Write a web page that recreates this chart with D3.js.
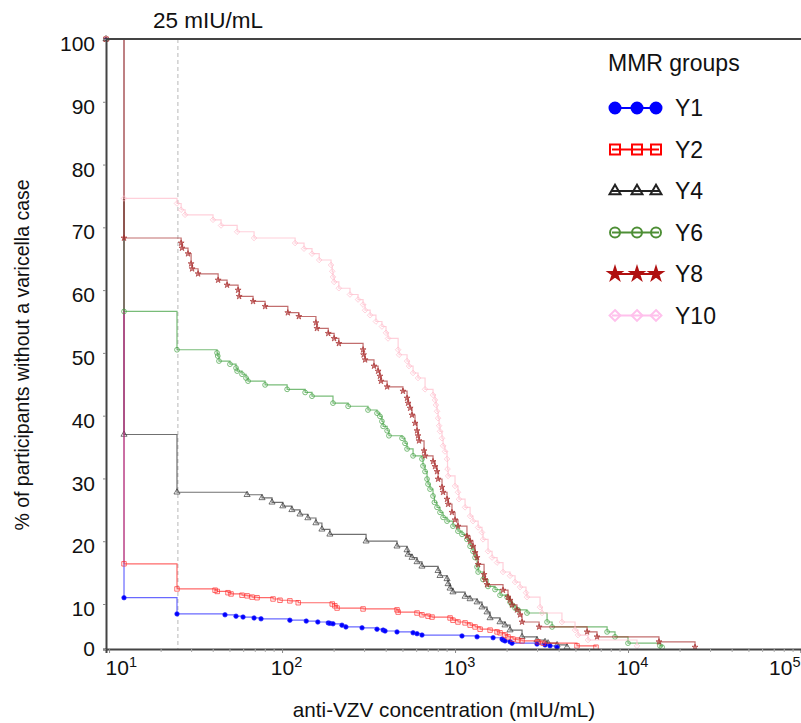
<!DOCTYPE html>
<html>
<head>
<meta charset="utf-8">
<script src="https://cdn.jsdelivr.net/npm/d3@7"></script>
<style>
  body { margin: 0; background: #fff; }
  text { font-family: "Liberation Sans", Arial, sans-serif; fill: #111; }
</style>
</head>
<body>
<script>
// data: [anti-VZV concentration (mIU/mL), % of participants]
const groups = ["Y1", "Y2", "Y4", "Y6", "Y8", "Y10"];

const y1Data = [[9.6,100],[12.2,11.0],[24.7,7.8],[46.8,7.6],[54.2,7.3],[59.5,7.1],[68.9,6.9],[75.6,6.7],
  [111,6.4],[138,6.2],[161,6.0],[185,5.8],[189,5.7],[197,5.6],[222,5.3],[234,4.9],[290,4.7],[354,4.4],
  [384,4.2],[394,4.0],[462,3.8],[572,3.6],[603,3.4],[644,3.1],[1097,2.9],[1341,2.7],[1660,2.5],[1870,2.2],
  [1894,2.0],[1945,1.8],[2080,1.6],[2135,1.3],[2978,1.1],[3314,0.9],[3542,0.7],[3889,0.4]];

const y2Data = [[9.6,100],[12.2,16.4],[24.7,12.4],[41.0,12.2],[42.2,12.0],[48.7,11.8],[50.7,11.6],[58.7,11.4],
  [62.8,11.3],[67.1,11.1],[71.7,11.0],[88.7,10.8],[97.3,10.6],[111,10.5],[124,10.2],[195,10.0],[202,9.6],
  [208,9.1],[294,8.9],[462,8.7],[469,8.2],[603,8.0],[644,7.6],[698,7.3],[736,7.1],[936,6.9],[973,6.4],
  [1040,6.0],[1143,5.8],[1222,5.3],[1306,4.9],[1396,4.4],[1594,4.2],[1750,3.8],[1820,3.6],[1945,3.1],
  [2024,2.7],[2163,2.2],[2312,2.0],[2440,1.8],[3020,1.6],[3228,1.3],[5070,0.7],[6530,0.4]];

const y4Data = [[9.6,100],[12.2,37.0],[24.7,27.8],[62.8,27.4],[76.6,26.9],[87.5,26.2],[101,25.6],[114,25.0],
  [127,24.3],[141,23.7],[157,22.9],[170,21.9],[189,21.1],[306,20.0],[462,19.2],[528,18.6],[535,17.9],
  [564,17.4],[603,16.7],[644,16.0],[798,15.3],[819,14.5],[899,14.0],[912,13.2],[936,12.5],[973,11.9],
  [1143,11.2],[1222,10.8],[1341,10.3],[1432,9.3],[1531,8.2],[1594,6.9],[1820,6.0],[1945,5.3],[2080,4.2],
  [2440,2.7],[2978,2.0],[3314,1.6],[3450,1.3],[3889,0.9],[4440,0.4]];

const y6Data = [[9.6,100],[12.2,56.6],[24.7,50.5],[42.1,50.0],[42.5,49.5],[43.2,48.7],[50.0,48.2],[54.2,47.6],
  [55.0,47.1],[58.7,46.6],[61.9,46.0],[63.6,45.5],[79.8,44.9],[107,44.2],[136,43.7],[149,43.1],[197,42.0],
  [241,41.5],[314,40.9],[354,40.4],[368,39.9],[378,39.1],[384,38.3],[405,37.6],[415,36.8],[494,36.4],
  [514,35.6],[528,34.7],[572,33.6],[644,33.1],[653,32.0],[671,31.1],[689,29.9],[698,29.1],[717,28.3],
  [746,27.2],[760,26.2],[787,25.4],[819,24.6],[853,23.8],[899,23.2],[973,22.4],[1040,21.6],[1097,21.1],
  [1172,20.3],[1222,19.2],[1270,18.4],[1306,17.4],[1341,15.9],[1360,15.1],[1452,13.9],[1552,12.8],
  [1703,12.3],[1820,11.4],[2000,11.1],[2080,10.3],[2135,9.8],[2223,9.1],[2312,8.7],[2606,8.0],[3404,6.0],
  [3640,4.9],[7570,3.8],[8410,2.7],[10000,1.3],[15300,0.7],[15740,0.4]];

const y8Data = [[9.6,100],[12.2,68.3],[26.1,67.5],[26.4,66.7],[28.6,65.8],[29.8,64.2],[30.2,63.4],[32.7,62.6],
  [42.7,61.6],[48.1,60.8],[55.7,60.0],[56.5,59.0],[68.0,58.2],[79.8,57.4],[108,56.4],[125,55.8],[157,54.8],
  [159,53.9],[185,53.1],[200,52.3],[213,51.5],[294,50.5],[296,49.7],[302,48.9],[340,47.9],[359,47.1],
  [368,46.3],[373,45.5],[405,44.6],[500,43.9],[528,42.8],[535,42.0],[550,41.2],[564,40.1],[587,38.8],
  [603,37.6],[611,36.8],[619,36.0],[662,34.4],[671,33.6],[746,32.7],[766,31.9],[787,31.1],[798,29.9],
  [841,28.6],[853,27.8],[899,26.7],[912,25.9],[960,24.6],[1000,23.4],[1040,22.4],[1172,20.8],[1222,20.0],
  [1270,19.2],[1306,18.2],[1341,17.4],[1360,16.3],[1472,14.7],[1489,13.9],[1531,13.1],[1894,12.2],
  [2024,11.1],[2080,10.6],[2135,9.8],[2280,8.7],[2376,7.6],[2440,6.0],[3062,4.9],[5800,3.8],[6620,2.7],
  [15100,1.6],[24400,0.4]];

const y10Data = [[9.6,100],[12.2,74.6],[24.7,73.8],[26.1,72.8],[27.5,72.0],[39.9,71.2],[44.4,70.3],[55.0,69.3],
  [68.9,68.3],[119,67.5],[134,66.6],[149,65.8],[164,64.8],[192,64.0],[195,63.0],[197,62.1],[200,61.3],
  [213,60.3],[247,59.3],[275,58.5],[294,57.7],[302,56.8],[323,56.0],[349,55.0],[378,54.2],[399,53.2],
  [410,52.3],[469,50.5],[475,49.7],[528,48.7],[542,47.9],[572,46.8],[611,46.0],[671,44.2],[746,43.3],
  [766,42.5],[776,41.7],[787,40.7],[798,39.6],[809,38.4],[819,37.5],[841,36.4],[853,35.2],[875,34.3],
  [899,33.1],[905,31.5],[912,30.4],[1000,28.8],[1040,27.8],[1054,26.7],[1143,25.4],[1222,24.0],[1270,23.2],
  [1360,22.2],[1432,21.4],[1452,20.3],[1552,18.4],[1637,17.4],[1750,16.6],[1894,15.1],[2080,14.5],
  [2223,13.5],[2376,12.7],[2572,11.8],[2606,11.1],[3100,9.3],[3184,8.0],[4150,6.0],[4940,4.2],[5140,3.1],
  [5870,2.0],[11270,0.7]];

const seriesData = [y1Data, y2Data, y4Data, y6Data, y8Data, y10Data];
const xTicks = [10, 100, 1000, 10000, 100000];
const yTicks = [0, 10, 20, 30, 40, 50, 60, 70, 80, 90, 100];
const cutoff = 25;

// styles per group
const colors = ["#0000ff", "#ff0000", "#222222", "#4e8f36", "#b01010", "#ffc0ec"];
const lineColors = ["#2a2aff", "#ff2a2a", "#333333", "#3f9f3f", "#a83030", "#ffbccb"];
const symbols = [d3.symbolCircle, d3.symbolSquare, d3.symbolTriangle, d3.symbolCircle, d3.symbolStar,
  d3.symbolDiamond2 || d3.symbolDiamond];
const filled = [true, false, false, false, true, false];
const plotSizes = [16, 20, 16, 18, 11, 20];
const legendSizes = [95, 100, 52, 78, 50, 75];

const width = 801, height = 723;
const svg = d3.select("body").append("svg")
  .attr("width", width).attr("height", height);

const x = d3.scaleLog().domain([9.6, 1e5]).range([106, 801]);
const y = d3.scaleLinear().domain([0, 10, 100]).range([649, 604, 39]);

// cutoff line
svg.append("line")
  .attr("x1", x(cutoff)).attr("x2", x(cutoff))
  .attr("y1", y(100)).attr("y2", y(0))
  .attr("stroke", "#b8b8b8").attr("stroke-width", 1)
  .attr("stroke-dasharray", "4,3");

svg.append("text")
  .attr("x", 153).attr("y", 28)
  .attr("font-size", 22.5)
  .text(cutoff + " mIU/mL");

// curves
const line = d3.line()
  .x(d => x(d[0])).y(d => y(d[1]))
  .curve(d3.curveStepAfter);

const order = [2, 0, 1, 3, 4, 5];
order.forEach(i => {
  const g = svg.append("g");
  g.append("path")
    .datum(seriesData[i])
    .attr("d", line)
    .attr("fill", "none")
    .attr("stroke", lineColors[i])
    .attr("stroke-width", 1.2)
    .attr("stroke-opacity", 0.7);
  g.selectAll("path.pt")
    .data(seriesData[i])
    .enter().append("path")
    .attr("class", "pt")
    .attr("transform", d => `translate(${x(d[0])},${y(d[1])})`)
    .attr("d", d3.symbol().type(symbols[i]).size(plotSizes[i]))
    .attr("fill", filled[i] ? colors[i] : "none")
    .attr("fill-opacity", i === 4 ? 0.35 : 1)
    .attr("stroke", lineColors[i])
    .attr("stroke-width", 0.8)
    .attr("stroke-opacity", 0.85);
});

// axes
const xAxis = svg.append("g")
  .attr("transform", `translate(0,${y(0)})`)
  .call(d3.axisBottom(x).tickValues(xTicks).tickSize(4).tickFormat(() => ""));

xAxis.selectAll(".tick text").remove();
xAxis.selectAll(".tick").each(function(d, i) {
  const t = d3.select(this).append("text")
    .attr("y", 26)
    .attr("font-size", 21)
    .attr("text-anchor", i === 0 ? "start" : (i === xTicks.length - 1 ? "end" : "middle"))
    .attr("x", i === 0 ? -4 : (i === xTicks.length - 1 ? -1 : 4));
  t.append("tspan").text("10");
  t.append("tspan").attr("font-size", 14.5).attr("dy", -8).text(Math.round(Math.log10(d)));
});

const minor = [];
for (let e = 1; e < 5; e++) for (let m = 2; m < 10; m++) minor.push(m * Math.pow(10, e));
svg.append("g").selectAll("line")
  .data(minor.filter(v => x(v) < width))
  .enter().append("line")
  .attr("x1", d => x(d)).attr("x2", d => x(d))
  .attr("y1", y(0)).attr("y2", y(0) + 3)
  .attr("stroke", "#aaa");

const yAxis = svg.append("g")
  .attr("transform", `translate(${x.range()[0]},0)`)
  .call(d3.axisLeft(y).tickValues(yTicks).tickSize(3).tickPadding(8));

yAxis.selectAll(".tick text")
  .attr("font-size", 21)
  .attr("dy", (d) => d === 0 ? "0.3em" : "0.55em");

[xAxis, yAxis].forEach(a => {
  a.select(".domain").attr("stroke", "#444").attr("stroke-width", 2);
  a.selectAll(".tick line").attr("stroke", "#888");
});

// top frame
svg.append("line")
  .attr("x1", x.range()[0]).attr("x2", width)
  .attr("y1", y(100)).attr("y2", y(100))
  .attr("stroke", "#444").attr("stroke-width", 2);

// axis titles
svg.append("text")
  .attr("x", 444).attr("y", 717)
  .attr("text-anchor", "middle")
  .attr("font-size", 20.7)
  .text("anti-VZV concentration (mIU/mL)");

svg.append("text")
  .attr("transform", "translate(29,355) rotate(-90)")
  .attr("text-anchor", "middle")
  .attr("font-size", 19.5)
  .text("% of participants without a varicella case");

// legend
const legend = svg.append("g");
legend.append("text")
  .attr("x", 608).attr("y", 71)
  .attr("font-size", 23)
  .text("MMR groups");

groups.forEach((name, i) => {
  const cy = 108 + i * 41.5;
  const row = legend.append("g");
  row.append("line")
    .attr("x1", 612).attr("x2", 659)
    .attr("y1", cy).attr("y2", cy)
    .attr("stroke", colors[i]).attr("stroke-width", 2);
  [615, 637, 656].forEach(px => {
    row.append("path")
      .attr("transform", `translate(${px},${cy})`)
      .attr("d", d3.symbol().type(symbols[i]).size(legendSizes[i]))
      .attr("fill", filled[i] ? colors[i] : "none")
      .attr("stroke", colors[i])
      .attr("stroke-width", 2);
  });
  row.append("text")
    .attr("x", 675).attr("y", cy + 8)
    .attr("font-size", 23)
    .text(name);
});
</script>
</body>
</html>
